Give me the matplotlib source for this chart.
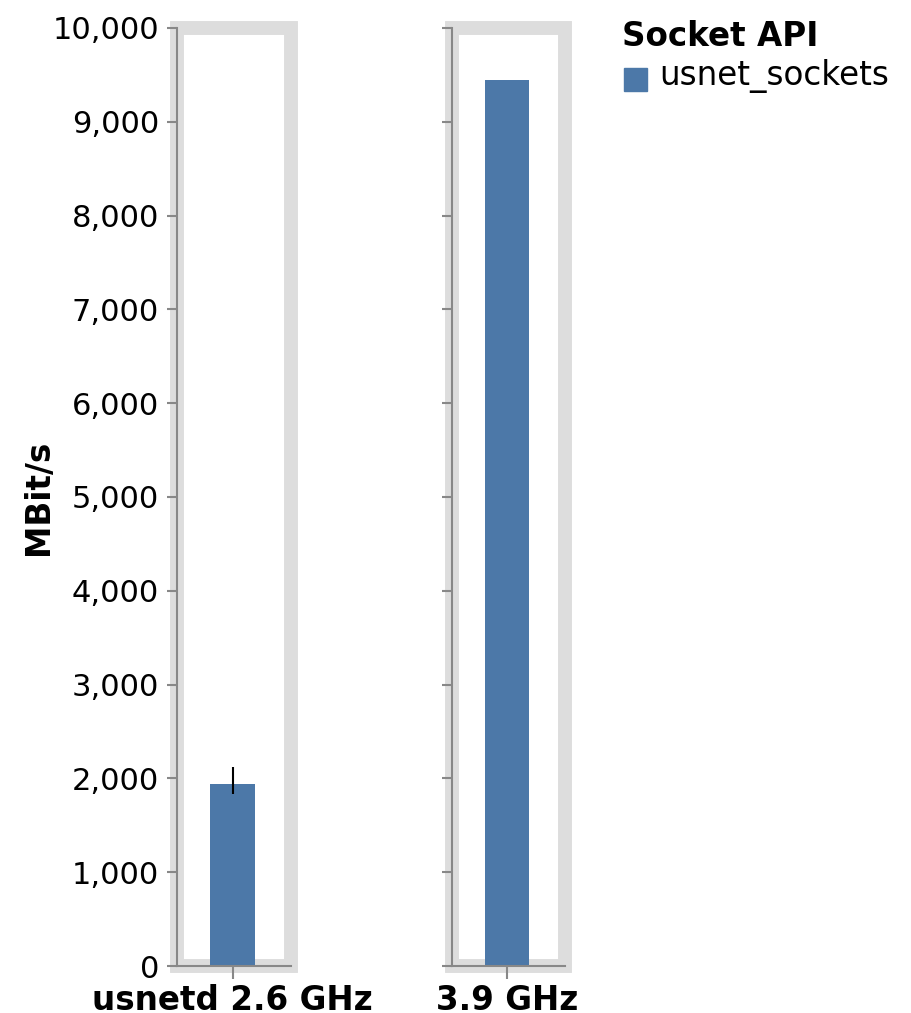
"""Socket API throughput per CPU clock, faceted bar chart."""

import matplotlib

matplotlib.use("Agg")
import matplotlib.pyplot as plt
from matplotlib.patches import Rectangle

# data
facets = ["usnetd 2.6 GHz", "3.9 GHz"]
series = "usnet_sockets"
throughput = [1940, 9445]
err_low = [1830, None]
err_high = [2125, None]
y_ticks = list(range(0, 10001, 1000))

W, H = 911, 1013
BAR_COLOR = "#4c78a8"
AXIS_COLOR = "#888888"
FRAME_COLOR = "#dddddd"
FS = 23.5
TICK_FS = 22


def fx(px):
    return px / W


def fy(py):
    return 1 - py / H


fig = plt.figure(figsize=(W / 100, H / 100), dpi=100)
plt.rcParams["font.family"] = "DejaVu Sans"

panels = [(177, 291), (452, 565)]
top, bottom = 28, 966
center = -0.013  # bars sit a hair left of the panel middle

for i, (x0, x1) in enumerate(panels):
    ax = fig.add_axes([fx(x0), fy(bottom), fx(x1) - fx(x0), fy(top) - fy(bottom)])
    ax.set_xlim(-0.5, 0.5)
    ax.set_ylim(0, 10000)
    ax.bar([center], [throughput[i]], width=0.395, color=BAR_COLOR, zorder=3)
    if err_low[i] is not None:
        ax.vlines(center, err_low[i], err_high[i], color="black", linewidth=1.5, zorder=4)

    # gray view frame
    ax.add_patch(Rectangle((0, 0), 1, 1, transform=ax.transAxes, fill=False,
                           edgecolor=FRAME_COLOR, linewidth=10, clip_on=False, zorder=1))

    for side in ["top", "right"]:
        ax.spines[side].set_visible(False)
    for side in ["left", "bottom"]:
        ax.spines[side].set_color(AXIS_COLOR)
        ax.spines[side].set_linewidth(1.5)
        ax.spines[side].set_zorder(5)

    ax.set_yticks(y_ticks)
    ax.set_xticks([center])
    ax.tick_params(axis="both", color=AXIS_COLOR, width=1.5, length=7)
    ax.tick_params(axis="x", length=9, pad=4)
    ax.set_xticklabels([facets[i]], fontsize=FS, fontweight="bold")
    if i == 0:
        ax.set_yticklabels([f"{v:,}" for v in y_ticks], fontsize=TICK_FS)
        ax.tick_params(axis="y", pad=6)
    else:
        ax.set_yticklabels([])
    ax.set_facecolor("none")

fig.text(fx(38), fy(497), "MBit/s", rotation=90, ha="center", va="center",
         fontsize=FS, fontweight="bold")

# legend
fig.text(fx(622), fy(37), "Socket API", ha="left", va="center",
         fontsize=FS, fontweight="bold")
fig.patches.append(Rectangle((fx(624), fy(91)), fx(23), fy(68) - fy(91),
                             transform=fig.transFigure, color=BAR_COLOR))
fig.text(fx(659), fy(76), series, ha="left", va="center", fontsize=FS)

fig.savefig("out.png", dpi=100)
